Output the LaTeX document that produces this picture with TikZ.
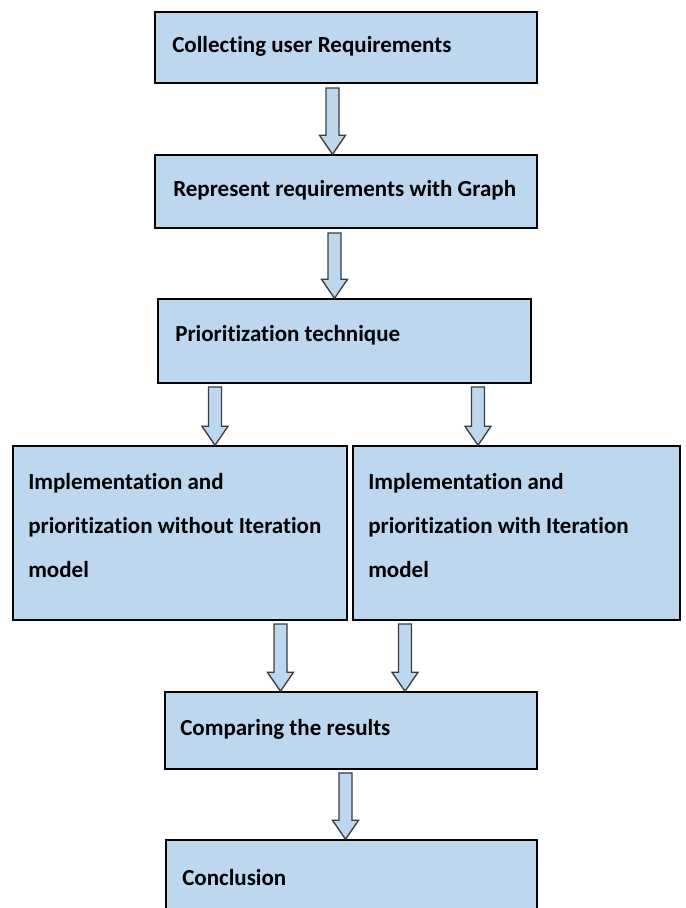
\documentclass[tikz,border=0pt]{standalone}
\usepackage{fontspec}
\setmainfont{Carlito}[Ligatures=NoCommon]
\usetikzlibrary{calc,fit}

\definecolor{boxblue}{RGB}{189,215,238}
\definecolor{arrowedge}{RGB}{60,60,60}

% Hollow block arrow from a start point straight down to the top of a node
\newcommand{\fatarrow}[2]{%
  \path[blockarrow] let \p1=(#1), \p2=(#2.north) in
    (\x1-4.875pt,\y1) -- (\x1+4.875pt,\y1) -- (\x1+4.875pt,\y2+14.25pt)
    -- (\x1+9.75pt,\y2+14.25pt) -- (\x1,\y2) -- (\x1-9.75pt,\y2+14.25pt)
    -- (\x1-4.875pt,\y2+14.25pt) -- cycle;}

\begin{document}
\begin{tikzpicture}[x=0.75pt,y=-0.75pt,
  procbox/.style={draw=black, line width=1.1pt, fill=boxblue, inner sep=0pt, rectangle},
  lbl/.style={anchor=base west, inner sep=0pt, align=left,
    font=\fontsize{17.25pt}{33pt}\selectfont\bfseries},
  blockarrow/.style={draw=arrowedge, line width=1pt, fill=boxblue, line join=miter}]

\useasboundingbox (0,0) rectangle (686,908);
\clip (0,0) rectangle (686,908);

% process boxes
\node[procbox, fit={(155,12) (537,83)}] (b1) {};
\node[procbox, fit={(155,155) (537,228)}] (b2) {};
\node[procbox, fit={(158,299) (531,383)}] (b3) {};
\node[procbox, fit={(13,446) (347,620)}] (b4) {};
\node[procbox, fit={(353,446) (680,620)}] (b5) {};
\node[procbox, fit={(165,692) (537,769)}] (b6) {};
\node[procbox, fit={(166,840) (537,960)}] (b7) {};

% box texts (multi-line labels sit on the baseline of their last line)
\node[lbl] (t1) at (172,52) {Collecting user Requirements};
\node[lbl] (t2) at (173,196) {Represent requirements with Graph};
\node[lbl] (t3) at (175,341) {Prioritization technique};
\node[lbl] (t4) at (28,577) {Implementation and\\prioritization without Iteration\\model};
\node[lbl] (t5) at (368,577) {Implementation and\\prioritization with Iteration\\model};
\node[lbl] (t6) at (180,735) {Comparing the results};
\node[lbl] (t7) at (182,885) {Conclusion};

% arrow start points
\coordinate (s1) at (332.5,88);
\coordinate (s2) at (334.5,233);
\coordinate (s3) at (215,387);
\coordinate (s4) at (478,387);
\coordinate (s5) at (280.5,624);
\coordinate (s6) at (405,624);
\coordinate (s7) at (345.5,773);

\fatarrow{s1}{b2}
\fatarrow{s2}{b3}
\fatarrow{s3}{b4}
\fatarrow{s4}{b5}
\fatarrow{s5}{b6}
\fatarrow{s6}{b6}
\fatarrow{s7}{b7}
\end{tikzpicture}
\end{document}
